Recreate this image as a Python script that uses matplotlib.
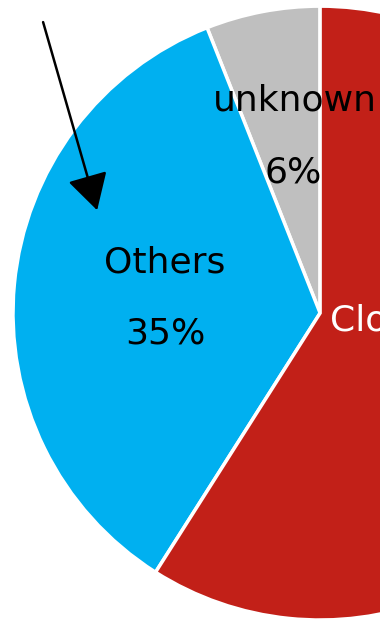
import numpy as np
import matplotlib
matplotlib.use("Agg")
import matplotlib.pyplot as plt
from matplotlib.patches import Rectangle

# ---- Data ----
categories = ['unknown', 'Others', 'Closed']
shares = [6, 35, 59]
colors = ['#BFBFBF', '#00B0F0', '#C22018']

# ---- Plotting ----
fig = plt.figure(figsize=(3.84, 6.2), dpi=100)
# pie centre sits near the right edge, so most of the red slice is cut off
ax = fig.add_axes([13 / 384, 0, 367 / 384, 1])

wedges, _ = ax.pie(shares, colors=colors, startangle=90, counterclock=True,
                   wedgeprops=dict(edgecolor='white', linewidth=2.5))
for w in wedges:
    w.set_clip_on(True)
ax.set_aspect('auto')
ax.set_xlim(-1.0, 0.195)
ax.set_ylim(-1.0, 1.02)
ax.axis('off')

fs = 26
# label positions (data coords, radius = 1)
ax.text(-0.081, 0.694, categories[0], ha='center', va='center', fontsize=fs)
ax.text(-0.088, 0.459, f'{shares[0]}%', ha='center', va='center', fontsize=fs)
ax.text(-0.505, 0.166, categories[1], ha='center', va='center', fontsize=fs)
ax.text(-0.505, -0.065, f'{shares[1]}%', ha='center', va='center', fontsize=fs)
ax.text(0.033, -0.023, categories[2], ha='left', va='center', fontsize=fs,
        color='white', clip_on=True)

# arrow pointing into the Others slice
ax.annotate('', xy=(-0.726, 0.335), xytext=(-0.902, 0.948),
            arrowprops=dict(arrowstyle='-|>,head_length=0.8,head_width=0.45',
                            color='black', lw=1.8,
                            mutation_scale=28, shrinkA=0, shrinkB=0),
            annotation_clip=False)

# thin white strip on the right, as in the cropped original
fig.patches.append(Rectangle((380 / 384, 0), 4 / 384, 1, transform=fig.transFigure,
                             facecolor='white', edgecolor='none', zorder=10))

fig.savefig('out.png', dpi=100)
